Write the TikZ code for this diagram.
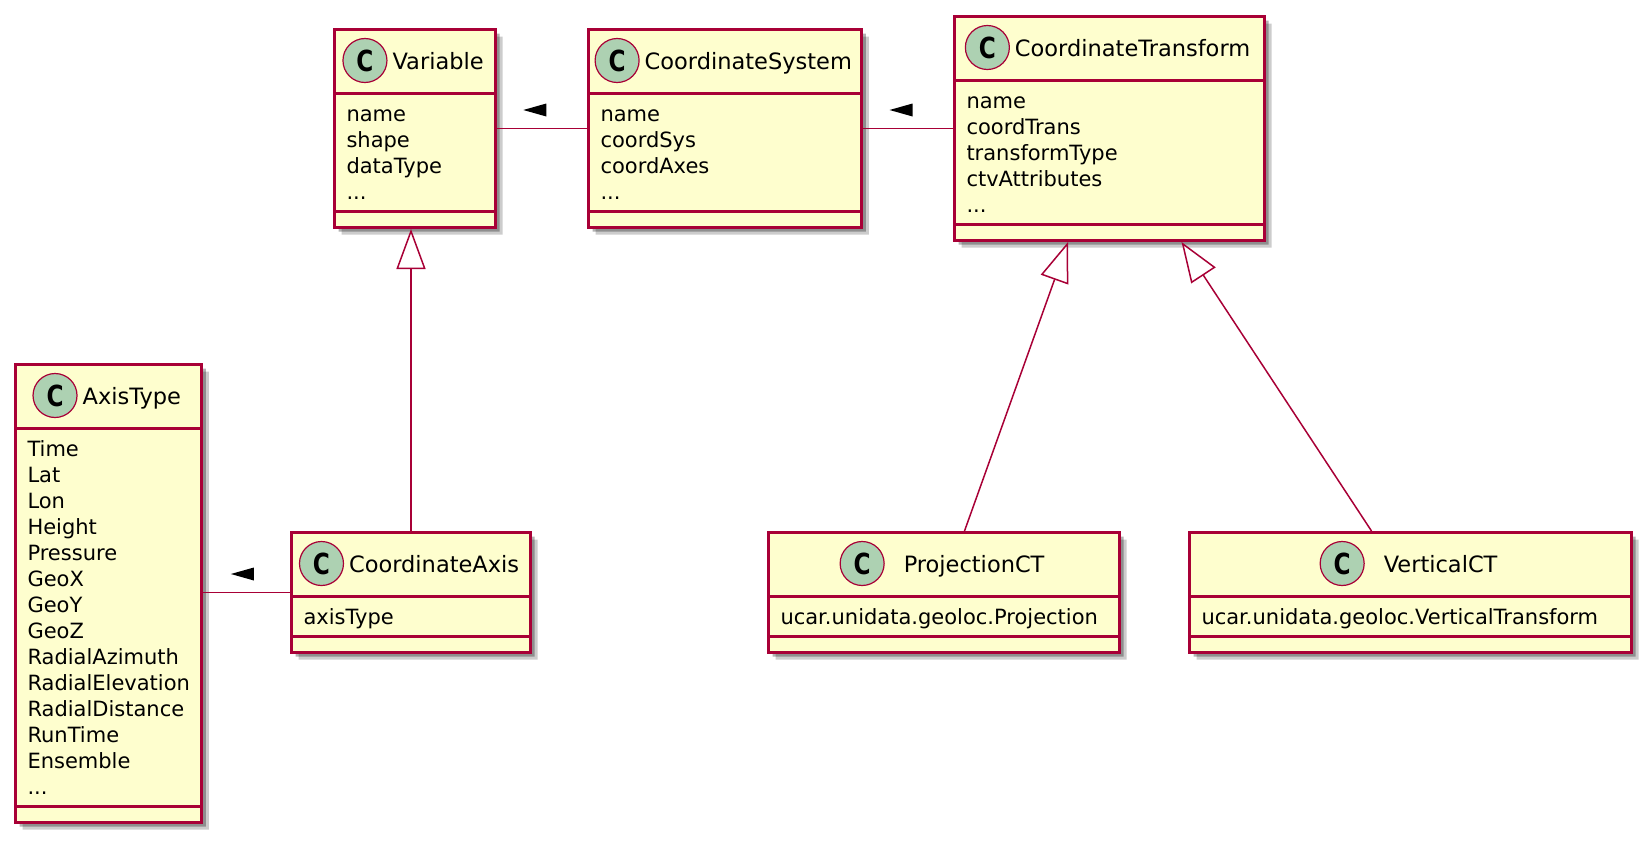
\documentclass[tikz,border=0pt]{standalone}
\usepackage{fontspec}
\setmainfont{DejaVu Sans}
\usetikzlibrary{shapes.multipart, shadows, arrows.meta, positioning}

\definecolor{classbg}{HTML}{FEFECE}
\definecolor{classline}{HTML}{A80036}
\definecolor{spotbg}{HTML}{ADD1B2}

% header of a class: the C spot, a gap, the class name
\newcommand{\classhead}[2][5pt]{\hspace*{-6pt}%
  \tikz[baseline={([yshift=-9pt]spot.center)}]\node[spot] (spot) {\scalebox{0.8}[1]{\bfseries C}};%
  \hspace*{#1}{\fontsize{22.5}{26}\selectfont #2}\hspace*{-2pt}\rule[-22.5pt]{0pt}{61pt}}
\newcommand{\firstline}{\rule{0pt}{26.5pt}}
\newcommand{\lastline}{\rule[-10.5pt]{0pt}{10.5pt}}
\newcommand{\nomethods}{\rule{0pt}{13pt}}

\begin{document}
\begin{tikzpicture}[x=1pt, y=1pt, >=latex,
    dirmark/.pic={\fill[black] (-11.5,0) -- (11.5,6.5) -- (11.5,-6.5) -- cycle;}]
  \tikzstyle{umlclass} = [rectangle split, rectangle split parts=3,
    rectangle split part align={center,left,left}, align=left,
    draw=classline, line width=3pt, fill=classbg, inner xsep=12pt, inner ysep=0pt,
    font=\fontsize{21}{26}\selectfont,
    drop shadow={shadow xshift=7pt, shadow yshift=-7pt, fill=black, opacity=.2},
    drop shadow={shadow xshift=4pt, shadow yshift=-4pt, fill=black, opacity=.3}]
  \tikzstyle{spot} = [circle, draw=classline, line width=1.2pt, fill=spotbg,
    minimum size=44pt, inner sep=0pt, font=\fontsize{29}{29}\selectfont]
  \tikzstyle{assoc} = [draw=classline, line width=1.5pt]
  \tikzstyle{extends} = [assoc, -{Triangle[length=40pt, width=29pt, fill=white]}]
  \useasboundingbox (0,0) rectangle (1650,-846);

  \node [umlclass, anchor=north west, minimum width=161pt] (var) at (333,-28)
    {\classhead{Variable}
     \nodepart{two}\firstline name\\shape\\dataType\\...\lastline
     \nodepart{three}\nomethods};
  \node [umlclass, right=90pt of var, minimum width=267pt] (csys)
    {\classhead{CoordinateSystem}
     \nodepart{two}\firstline name\\coordSys\\coordAxes\\...\lastline
     \nodepart{three}\nomethods};
  \node [umlclass, anchor=north west, minimum width=310pt] (ct) at (953,-15)
    {\classhead{CoordinateTransform}
     \nodepart{two}\firstline name\\coordTrans\\transformType\\ctvAttributes\\...\lastline
     \nodepart{three}\nomethods};
  \node [umlclass, anchor=north west, minimum width=184pt] (axis) at (14,-363)
    {\classhead{AxisType}
     \nodepart{two}\firstline Time\\Lat\\Lon\\Height\\Pressure\\GeoX\\GeoY\\GeoZ\\RadialAzimuth\\RadialElevation\\RadialDistance\\RunTime\\Ensemble\\...\lastline
     \nodepart{three}\nomethods};
  \node [umlclass, anchor=north west, minimum width=351pt] (proj) at (767,-531)
    {\classhead[19pt]{ProjectionCT}
     \nodepart{two}\firstline ucar.unidata.geoloc.Projection\lastline
     \nodepart{three}\nomethods};
  \node [umlclass, left=235pt of proj, minimum width=239pt] (ca)
    {\classhead{CoordinateAxis}
     \nodepart{two}\firstline axisType\lastline
     \nodepart{three}\nomethods};
  \node [umlclass, right=67pt of proj, minimum width=442pt] (vert)
    {\classhead[19pt]{VerticalCT}
     \nodepart{two}\firstline ucar.unidata.geoloc.VerticalTransform\lastline
     \nodepart{three}\nomethods};

  \draw [assoc] (var.east) -- pic[pos=.42, yshift=18.5pt] {dirmark} (csys.west);
  \draw [assoc] (csys.east) -- pic[pos=.42, yshift=18.5pt] {dirmark} (ct.west);
  \draw [assoc] (axis.east |- ca.west) -- pic[pos=.45, yshift=18.5pt] {dirmark} (ca.west);
  \draw [extends] (ca.north) -- (ca.north |- var.south);
  \draw [extends] ([xshift=20.5pt]proj.north) -- ([xshift=-41.5pt]ct.south);
  \draw [extends] ([xshift=-39pt]vert.north) -- ([xshift=72pt]ct.south);
\end{tikzpicture}
\end{document}
